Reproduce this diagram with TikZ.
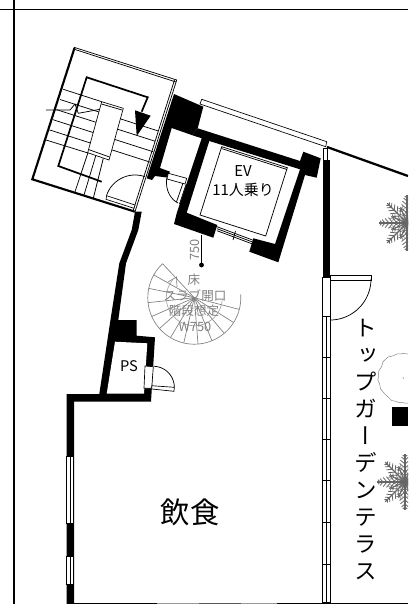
\documentclass[tikz,border=0pt]{standalone}
\usepackage{fontspec}
\setmainfont{Noto Sans CJK JP}
\newfontfamily\vjp[RawFeature=+vert]{Noto Sans CJK JP}
\usetikzlibrary{decorations.pathmorphing}
\tikzset{
  x=0.75pt,y=-0.75pt,
  wall/.style={fill=black,draw=none},
  thin line/.style={draw=black,line width=0.55pt},
  med line/.style={draw=black,line width=0.9pt},
  heavy line/.style={draw=black,line width=1.6pt},
  pale/.style={draw=black!50,line width=0.5pt},
  pale text/.style={text=black!50,inner sep=0pt},
  label text/.style={inner sep=0pt,align=center},
  sash/.style={draw=black,fill=white,line width=0.5pt},
  arm/.style={draw=black!60,line width=0.4pt},
}
\newcommand{\arcp}[6][thin line]{\draw[#1] plot[domain=#5:#6,samples=40,smooth] ({#2+#4*cos(\x)},{#3-#4*sin(\x)});}
\newcommand{\snowtree}[2]{%
  \begin{scope}[shift={(#1,#2)}]
  \fill[black!45] (0,0) circle[radius=6];
  \foreach \a in {22.5,67.5,...,337.5}{
      \draw[arm,line width=0.7pt] (0,0) -- ({17*cos(\a)},{17*sin(\a)});
      \foreach \r/\l in {8/4,12/4,15/3}{
        \draw[arm,line width=0.5pt] ({\r*cos(\a)},{\r*sin(\a)}) -- ({\r*cos(\a)+\l*cos(\a+50)},{\r*sin(\a)+\l*sin(\a+50)});
        \draw[arm,line width=0.5pt] ({\r*cos(\a)},{\r*sin(\a)}) -- ({\r*cos(\a)+\l*cos(\a-50)},{\r*sin(\a)+\l*sin(\a-50)});
      }
  }
  \foreach \a in {0,45,...,315}{
      \draw[arm,line width=0.9pt] (0,0) -- ({28*cos(\a)},{28*sin(\a)});
      \foreach \r/\l in {6/6,10/7,14/7,18/6,22/4.5,25/3}{
        \draw[arm,line width=0.6pt] ({\r*cos(\a)},{\r*sin(\a)}) -- ({\r*cos(\a)+\l*cos(\a+50)},{\r*sin(\a)+\l*sin(\a+50)});
        \draw[arm,line width=0.6pt] ({\r*cos(\a)},{\r*sin(\a)}) -- ({\r*cos(\a)+\l*cos(\a-50)},{\r*sin(\a)+\l*sin(\a-50)});
      }
  }
  \end{scope}%
}
\begin{document}
\begin{tikzpicture}
\useasboundingbox (0,0) rectangle (408,604);
\begin{scope}
\clip (0,0) rectangle (408,604);
% frame
\draw[line width=0.95pt] (0,9.5) -- (408,9.5);
\draw[line width=0.95pt] (14,0) -- (14,604);
% trees
\snowtree{407}{223}
\snowtree{405}{482}
\draw[pale,line width=0.35pt,decorate,decoration={random steps,segment length=3,amplitude=0.8}] (403,378) circle[radius=24.5];
\fill[black!50] (403.3,378) circle[radius=0.7];
\fill[black] (392,407) rectangle (408,426);
% stair outer
\draw[thin line] (74,47.3) -- (176.7,80);
\draw[thin line] (75,49.5) -- (176,82);
\draw[heavy line] (74.5,48) -- (32.3,179.3) -- (135,211.7);
\draw[thin line] (176.7,80) -- (135,211.7);
\draw[thin line] (174.5,80) -- (133,211);
% steps
\foreach \xa/\ya/\xb/\yb in {63.3/89.3/101.7/101.7, 60/99.5/158.3/131, 56.4/109.6/155/141.2, 53/119.7/153.3/151.8, 49.5/129.9/150.7/162.3, 46/140/88/153}{
  \draw[thin line] (\xa,\ya) -- (\xb,\yb);
}
\foreach \xa/\ya/\xb/\yb in {88.3/151.7/75/191.7, 96/155/84/195, 103.3/158.3/93.3/198.3}{
  \draw[thin line] (\xa,\ya) -- (\xb,\yb);
}
% break line
\draw[thin line] (46,110) -- (70,110) -- (75,104) -- (78.3,113.3) -- (100,109.3);
% well
\draw[sash] (101.7,101.7) -- (123.3,108.3) -- (109,160) -- (87.7,152.7) -- cycle;
\draw[thin line] (101.5,104) -- (122,110);
\draw[thin line] (89,149.7) -- (109.5,157);
% run line
\draw[med line,line width=1.3pt] (141.7,111.7) -- (147.7,97.3) -- (86.7,77.3) -- (58.3,166) -- (101.7,181.7);
\fill (135,110.3) -- (150.7,115.7) -- (136.7,136) -- cycle;
% stair door
\arcp[thin line]{135}{205}{30}{70.5}{162}
\draw[sash] (106.7,195.7) -- (135,205) -- (134,208.3) -- (106,199.3) -- cycle;
% walls
\path[wall] (174,94) -- (203.3,106.7) -- (197.7,128.3) -- (191.7,135) -- (171.7,128) -- (160,168) -- (170,171.7) -- (166.7,177.5) -- (155,176) -- (152,180) -- (146.7,178.3) -- cycle;
\path[wall] (197.7,128.3) -- (300,161) -- (303.3,151.7) -- (320.7,158.3) -- (316.7,177.7) -- (305,175) -- (278.3,262.3) -- (249.3,251.7) -- (253.3,238.3) -- (275,244) -- (300,169.3) -- (209.3,141) -- (186.7,212.7) -- (217.3,225) -- (213.3,237.7) -- (174,224) -- (176.7,213.3) -- (201.7,138.3) -- (191.7,135) -- cycle;
\path[wall] (135,211.7) -- (141.7,211.7) -- (138.3,230) -- (126,263.3) -- (118.3,320) -- (136.7,320) -- (136.7,335.7) -- (155,337.3) -- (151,401.7) -- (74,401.7) -- (74,604) -- (66.7,604) -- (66.7,394) -- (99.3,394) -- (110,323) -- (119.3,263.3) -- (131.7,230) -- cycle;
\fill[white] (115,341.7) -- (147.3,343.3) -- (144,393.7) -- (106.7,393.7) -- cycle;
% right wall
\path[wall] (322.7,160) -- (330,160) -- (330,277) -- (322.7,277) -- cycle;
\draw[thin line] (323.5,148) rectangle (327.5,160);
\draw[heavy line,line width=1.7pt] (327,147) -- (408,176);
% window top
\draw[sash] (201.7,99.3) -- (326.7,141.7) -- (325.7,146.7) -- (200,104) -- cycle;
% EV car
\draw[thin line] (221.7,146.7) -- (287.3,167.7) -- (265.7,236) -- (200,215) -- cycle;
\draw[thin line] (221.5,148.5) -- (287,169.5);
% EV door rails
\foreach \d in {0,2,4}{\draw[thin line] ({217},{226.7+\d}) -- (252.5,{240+\d});}
\draw[thin line] (235.5,231) -- (233,240);
% small door
\draw[sash] (168.3,173.3) -- (186.7,178.3) -- (185,184) -- (167,179) -- cycle;
\draw[thin line] (183,183) -- (176.5,202);
\draw[thin line] (186,184.5) -- (179.5,204);
\draw[thin line] (166.7,178) .. controls (165,192) and (172,200) .. (178,203);
% left windows
\foreach \ya/\yb in {456/523,556.7/584}{
  \draw[sash] (66.7,\ya) rectangle (73.5,\yb);
  \draw[thin line] (70,\ya) -- (70,\yb);
}
% PS door
\draw[sash] (145,366) -- (153.3,366.7) -- (151.7,388.3) -- (144,388.3) -- cycle;
\draw[sash] (151.7,385.7) -- (174.3,387.3) -- (174,391.3) -- (151.7,389) -- cycle;
\arcp[thin line]{153.3}{387.3}{21}{0}{88}
% right sash
\draw[sash] (322.7,316.5) rectangle (330.7,604);
\draw[thin line] (326,316.5) -- (326,604);
\foreach \y in {357.3,398.3,439.3,480.7,522.7,564.7}{\draw[thin line] (322.7,\y) -- (330.7,\y);}
\draw[thin line] (322.7,277) rectangle (330.7,316.5);
\draw[sash] (330,275.7) rectangle (371,280);
\arcp[thin line]{330}{279}{41}{-90}{0}
% bottom
\draw[line width=0.9pt] (74,603.3) -- (157,603.3);
\draw[line width=0.9pt,black!40] (157,603.3) -- (199,603.3);
\draw[line width=0.9pt,black!65] (199,603.3) -- (241,603.3);
\draw[line width=0.9pt,black!40] (241,603.3) -- (277,603.3);
\draw[line width=0.9pt] (277,603.3) -- (408,603.3);
\fill (322.7,601.5) rectangle (330.7,604);
% spiral
\foreach \i in {0,...,12}{
  \pgfmathsetmacro{\ang}{133+17.7*\i}
  \draw[pale] (194.3,297.7) -- ({194.3+46.5*cos(\ang)},{297.7-46.5*sin(\ang)});
}
\arcp[pale]{194.3}{297.7}{46.5}{133}{364}
\arcp[pale,draw=black!35]{194.3}{297.7}{28}{140}{355}
\draw[pale] (168,282) -- (176.5,277) -- (177,287);
% dimension
\fill (201.5,265) circle[radius=2.4];
\draw[thin line] (201.5,265) -- (201.5,235);
\end{scope}
% labels
\node[pale text,rotate=90,font=\fontsize{9.6pt}{10pt}\selectfont] (dim) at (195,250) {750};
\node[pale text,font=\fontsize{9.4pt}{10pt}\selectfont] (t1) at (194,279.5) {床};
\node[pale text,font=\fontsize{9.4pt}{10pt}\selectfont] (t2) at (195,296) {スラブ開口};
\node[pale text,font=\fontsize{9.4pt}{10pt}\selectfont] (t3) at (194,311) {階段想定};
\node[pale text,font=\fontsize{9.6pt}{10pt}\selectfont] (t4) at (195,327) {W750};
\node[label text,font=\fontsize{11.2pt}{14.5pt}\selectfont] (ev) at (243,181) {EV\\11人乗り};
\node[label text,font=\fontsize{11pt}{13pt}\selectfont] (ps) at (129,366) {PS};
\node[label text,font=\fontsize{22pt}{26pt}\selectfont] (food) at (190,512) {飲食};
\node[label text,font=\vjp\fontsize{17pt}{20.25pt}\selectfont] (terrace) at (366,450) {ト\\ッ\\プ\\ガ\\ー\\デ\\ン\\テ\\ラ\\ス};
\end{tikzpicture}
\end{document}
